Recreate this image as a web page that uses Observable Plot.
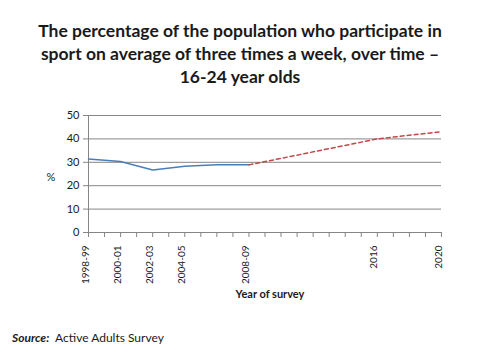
<!DOCTYPE html>
<html><head><meta charset="utf-8">
<script src="https://cdn.jsdelivr.net/npm/d3@7"></script>
<script src="https://cdn.jsdelivr.net/npm/@observablehq/plot@0.6"></script>
<style>
html,body{margin:0;padding:0;background:#fff;}
#wrap{position:relative;width:480px;height:360px;overflow:hidden;font-family:Lato,"Open Sans",sans-serif;}
#title{position:absolute;left:0;top:19px;width:480px;text-align:center;font-weight:bold;font-size:17.5px;line-height:23px;color:#1a1a1a;}
#caption{position:absolute;left:12px;top:330px;font-size:12px;color:#1a1a1a;}
#plot{position:absolute;left:0;top:0;}
</style></head>
<body>
<div id="wrap">
<div id="plot"></div>
<div id="title">The percentage of the population who participate in<br>sport on average of three times a week, over time –<br>16-24 year olds</div>
<div id="caption"><b><i>Source:</i></b>&nbsp; Active Adults Survey</div>
</div>
<script>
const years = [1998, 2000, 2002, 2004, 2006, 2008];
const actual = [31.4, 30.3, 26.7, 28.3, 28.9, 28.9];
const projYears = [2008, 2016, 2020];
const projected = [28.9, 40.0, 43.1];
const labelYears = [1998, 2000, 2002, 2004, 2008, 2016, 2020];
const labels = ["1998-99", "2000-01", "2002-03", "2004-05", "2008-09", "2016", "2020"];
const yTicks = [0, 10, 20, 30, 40, 50];
const tickYears = d3.range(1998, 2021);

const actualData = years.map((x, i) => ({x, y: actual[i]}));
const projData = projYears.map((x, i) => ({x, y: projected[i]}));
const labelData = labelYears.map((x, i) => ({x, label: labels[i]}));

const chart = Plot.plot({
  width: 480,
  height: 360,
  marginTop: 115,
  marginBottom: 128,
  marginLeft: 88,
  marginRight: 39,
  style: {fontFamily: "Lato, 'Open Sans', sans-serif", fontSize: "11px", color: "#1a1a1a", background: "transparent"},
  x: {domain: [1998, 2020]},
  y: {domain: [0, 50]},
  marks: [
    Plot.gridY(yTicks, {stroke: "#868686", strokeOpacity: 1, strokeWidth: 1}),
    Plot.axisY(yTicks, {tickSize: 5, tickPadding: 4, stroke: "#868686", fontSize: 11, label: null}),
    Plot.ruleX([1998], {stroke: "#868686"}),
    Plot.axisX(tickYears, {tickSize: 5, stroke: "#868686", tickFormat: () => "", label: null}),
    Plot.text(labelData, {x: "x", text: "label", frameAnchor: "bottom", dy: 13, rotate: -90, textAnchor: "end", fontSize: 10, fill: "#1a1a1a"}),
    Plot.text(["%"], {frameAnchor: "left", dx: -42, dy: 3, fontSize: 11, fill: "#1a1a1a"}),
    Plot.text(["Year of survey"], {frameAnchor: "bottom", dx: 5, dy: 65, fontSize: 11, fontWeight: "bold", fill: "#1a1a1a"}),
    Plot.line(actualData, {x: "x", y: "y", stroke: "#4a7ebb", strokeWidth: 1.5}),
    Plot.line(projData, {x: "x", y: "y", stroke: "#be4b48", strokeWidth: 1.5, strokeDasharray: "4,3"})
  ]
});
document.getElementById("plot").appendChild(chart);
</script>
</body></html>
